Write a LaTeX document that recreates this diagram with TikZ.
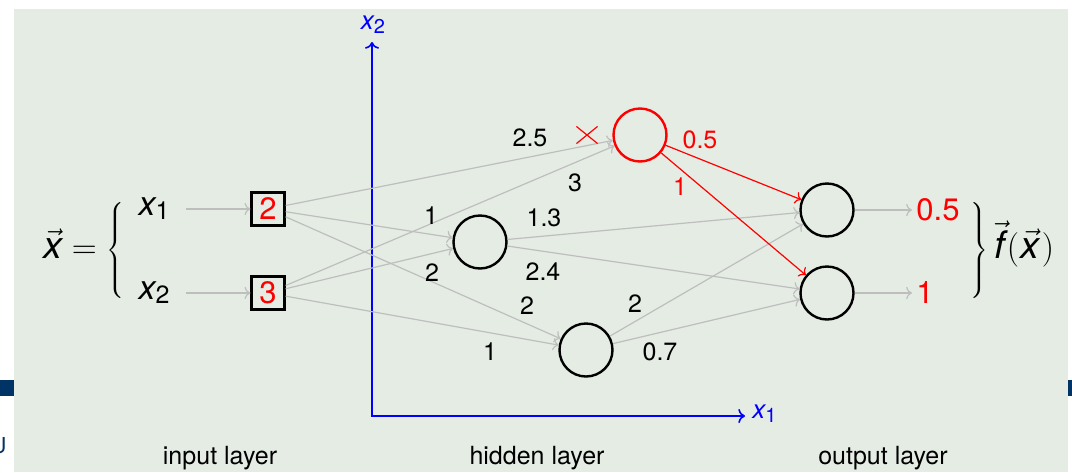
\documentclass[tikz,border=0pt]{standalone}
\usepackage{fontspec}
\setmainfont{TeX Gyre Heros}
\usepackage{xcolor}
\usepackage{tikz}
\usetikzlibrary{arrows.meta, positioning, shapes.misc}
\definecolor{slidebg}{RGB}{228, 236, 228}
\definecolor{barblue}{RGB}{0, 51, 102}
\definecolor{edgegray}{RGB}{190, 190, 190}

\newcommand{\bigfont}{\fontsize{15.5}{18}\selectfont}
\newcommand{\smallfont}{\fontsize{12.5}{15}\selectfont}
\newcommand{\xin}[1]{{\fontsize{17}{20}\selectfont\itshape x}\raisebox{-2pt}{#1}}
\newcommand{\xax}[1]{{\fontsize{13}{15}\selectfont\itshape x}\raisebox{-2pt}{\fontsize{10}{12}\selectfont #1}}
\newcommand{\vit}[1]{\vec{\mbox{\fontsize{19}{22}\selectfont\itshape #1}}}
\newcommand{\tallparen}[1]{\mbox{\fontsize{18.5}{22}\selectfont$#1$}}

\begin{document}
\begin{tikzpicture}[
  x=0.5pt, y=-0.5pt,
  inbox/.style={
    rectangle, draw=black, line width=1.1pt, minimum size=16.5pt,
    inner sep=0pt, text=red, font=\bigfont
  },
  neuron/.style={circle, draw=#1, line width=1.2pt, minimum size=26.5pt, inner sep=0pt},
  neuron/.default=black,
  inlab/.style={font=\smallfont, inner sep=1pt},
  outval/.style={font=\bigfont, text=red, anchor=west, inner sep=2pt},
  wire/.style={->, draw=edgegray, line width=0.6pt},
  hot/.style={->, draw=red, line width=0.6pt},
  weight/.style={font=\smallfont, inner sep=1pt},
  axis/.style={<->, draw=blue, line width=0.8pt},
  axlab/.style={text=blue, inner sep=1pt},
  layer/.style={font=\smallfont, anchor=base},
]

\useasboundingbox (0,0) rectangle (1072,472);
\fill[slidebg] (14,9) rectangle (1068,472);

% slide decoration at the edges
\fill[barblue] (0,380) rectangle (14,396);
\fill[barblue] (1068,380) rectangle (1072,396);
\node[anchor=base east, text=barblue, font=\fontsize{11}{13}\selectfont, inner sep=0pt] (logo) at (7,453) {U};

% coordinate axes
\coordinate (origin) at (372,416);
\coordinate (xtip)   at (745,416);
\coordinate (ytip)   at (372,42);
\draw[axis] (ytip) -- (origin) -- (xtip);
\node[axlab, anchor=west] (ax1) at (750,414) {\xax{1}};
\node[axlab] (ax2) at (373,25) {\xax{2}};

% input vector
\node[anchor=east, inner sep=0pt] (xvec) at (127,250)
  {\fontsize{17}{20}\selectfont $\vit{x} = \left\{\vcenter{\hbox{\rule{0pt}{52pt}}}\right.$};
\node[inlab] (lx1) at (154,209) {\xin{1}};
\node[inlab] (lx2) at (154,293) {\xin{2}};

% input layer
\node[inbox] (in1) at (268,209) {2};
\node[inbox] (in2) at (268,293) {3};

% hidden layer
\node[neuron]     (h1) at (480,242) {};
\node[neuron]     (h2) at (586,350) {};
\node[neuron=red] (h3) at (640,135) {};

% output layer
\node[neuron] (o1) at (827,210) {};
\node[neuron] (o2) at (827,293) {};
\node[outval] (v1) at (912,210) {0.5};
\node[outval] (v2) at (912,293) {1};

% output vector
\node[anchor=west, inner sep=0pt] (fvec) at (968,250)
  {\fontsize{17}{20}\selectfont $\left.\vcenter{\hbox{\rule{0pt}{52pt}}}\right\}\vit{f}\mkern1mu\tallparen{(}\mkern1mu\vit{x}\mkern1mu\tallparen{)}$};

% 1. inputs into the boxes
\draw[wire, shorten <=7pt] (lx1) -- (in1);
\draw[wire, shorten <=7pt] (lx2) -- (in2);

% 2. input layer to hidden layer
\draw[wire] (in1) -- (h3);
\draw[wire] (in2) -- (h3);
\draw[wire] (in1) -- (h1);
\draw[wire] (in2) -- (h1);
\draw[wire] (in1) -- (h2);
\draw[wire] (in2) -- (h2);

% 3. hidden layer to output layer
\draw[wire] (h1) -- (o1);
\draw[wire] (h1) -- (o2);
\draw[wire] (h2) -- (o1);
\draw[wire] (h2) -- (o2);
\draw[hot]  (h3) -- (o1);
\draw[hot]  (h3) -- (o2);

% 4. outputs
\draw[wire] (o1) -- (v1);
\draw[wire] (o2) -- (v2);

% blocked input of the top neuron
\node[cross out, draw=red, line width=0.6pt, minimum width=10pt, minimum height=8pt, inner sep=0pt] (block) at (587,135) {};

% weights
\node[weight] (w13) at (530,138) {2.5};
\node[weight] (w23) at (575,183) {3};
\node[weight] (w11) at (431,216) {1};
\node[weight] (w21) at (432,273) {2};
\node[weight] (w12) at (527,306) {2};
\node[weight] (w22) at (490,352) {1};
\node[weight] (u11) at (544,218) {1.3};
\node[weight] (u12) at (543,272) {2.4};
\node[weight] (u21) at (635,304) {2};
\node[weight] (u22) at (660,352) {0.7};
\node[weight, text=red] (u31) at (700,140) {0.5};
\node[weight, text=red] (u32) at (680,187) {1};

% layer names
\node[layer] (inlayer)  at (220,464) {input layer};
\node[layer] (hidlayer) at (537,464) {hidden layer};
\node[layer] (outlayer) at (883,464) {output layer};

\end{tikzpicture}
\end{document}
